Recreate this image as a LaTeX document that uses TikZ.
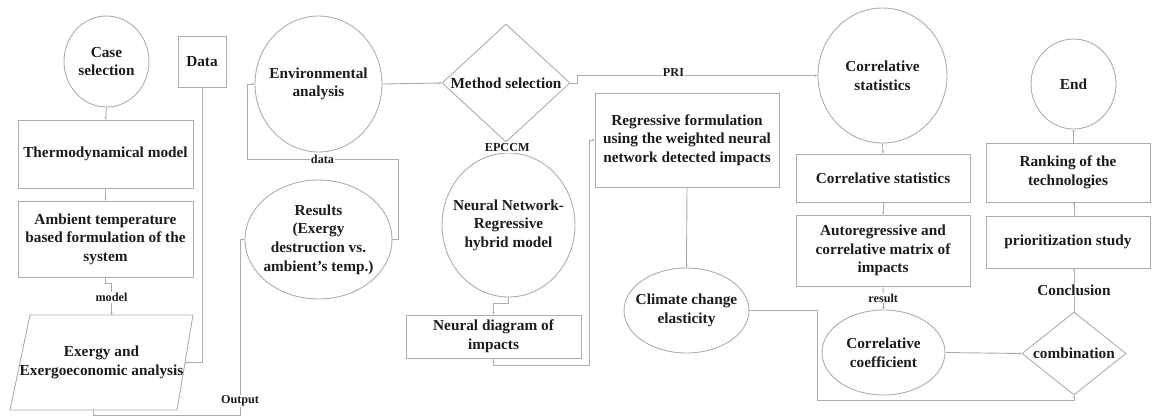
\documentclass[tikz,border=0pt]{standalone}
\usepackage{fontspec}
\setmainfont{Liberation Serif}
\usetikzlibrary{shapes.geometric,arrows.meta}
\definecolor{edge}{RGB}{172,172,172}
\definecolor{ink}{RGB}{28,28,28}

\begin{document}
\begin{tikzpicture}[x=1pt,y=-1pt,
  every node/.style={font=\fontsize{15.3}{18.6}\selectfont\bfseries, text=ink},
  outline/.style={draw=edge, line width=0.9pt},
  box/.style={outline, rectangle, inner sep=0pt, align=center},
  oval/.style={outline, ellipse, inner sep=0pt},
  rhomb/.style={outline, diamond, inner sep=0pt, align=center},
  flow/.style={draw=edge, line width=0.9pt, -{Stealth[length=2.6pt,width=2.4pt]}},
  tag/.style={fill=white, inner sep=1pt, font=\fontsize{12.2}{14}\selectfont\bfseries},
  inside/.style={align=center, inner sep=0pt}
]
\useasboundingbox (0,0) rectangle (1152,416);

% ---------- left column: thermodynamic part ----------
\node[oval, minimum width=85, minimum height=91,
      label={[inside]center:{Case\\selection}}] (case) at (106.5,61.5) {};
\node[box, minimum width=48, minimum height=51] (datab) at (202,61.5) {Data};
\node[box, minimum width=175, minimum height=68] (thermo) at (105.5,154) {Thermodynamical model};
\node[box, minimum width=175, minimum height=76] (ambient) at (105.5,239)
     {Ambient temperature\\based formulation of the\\system};

% parallelogram (input/output block)
\coordinate (pTL) at (30,315);
\coordinate (pTR) at (193,315);
\coordinate (pBR) at (177,410);
\coordinate (pBL) at (10,410);
\coordinate (exTop) at (111.5,315);
\coordinate (exRight) at (185,362.5);
\coordinate (exBottom) at (93.5,410);
\draw[outline] (pTL) -- (pTR) -- (pBR) -- (pBL) -- cycle;
\node[inside] (exergy) at (101.5,362.5) {Exergy and\\Exergoeconomic analysis};

% ---------- environmental part ----------
\node[oval, minimum width=127, minimum height=136,
      label={[inside]center:{Environmental\\analysis}}] (env) at (318.5,84) {};
\node[oval, minimum width=147, minimum height=119,
      label={[inside]center:{Results\\(Exergy\\destruction vs.\\ambient’s temp.)}}] (results) at (318.5,239.5) {};
\node[rhomb, aspect=1.085, minimum width=128, minimum height=118] (meth) at (506,83) {Method selection};
\node[oval, minimum width=133, minimum height=144,
      label={[inside]center:{Neural Network-\\Regressive\\hybrid model}}] (nn) at (508.5,225) {};
\node[box, minimum width=175, minimum height=43] (ndiag) at (493.5,336.5) {Neural diagram of\\impacts};
\node[box, minimum width=184, minimum height=94] (regr) at (687,140)
     {Regressive formulation\\using the weighted neural\\network detected impacts};
\node[oval, minimum width=125, minimum height=85,
      label={[inside]center:{Climate change\\elasticity}}] (clim) at (686.5,310.5) {};

% ---------- correlative part ----------
\node[oval, minimum width=129, minimum height=135,
      label={[inside]center:{Correlative\\statistics}}] (corr) at (882.5,75.5) {};
\node[box, minimum width=174, minimum height=48] (cstat) at (883,178) {Correlative statistics};
\node[box, minimum width=174, minimum height=71] (autoreg) at (883,250.5)
     {Autoregressive and\\correlative matrix of\\impacts};
\node[oval, minimum width=123, minimum height=85,
      label={[inside]center:{Correlative\\coefficient}}] (coef) at (883.5,352.5) {};

% ---------- conclusion part ----------
\node[rhomb, aspect=1.25, minimum width=104, minimum height=83] (comb) at (1074,353.5) {combination};
\node[box, minimum width=164, minimum height=52] (prio) at (1068,242) {prioritization study};
\node[box, minimum width=164, minimum height=59] (rank) at (1068,172.5) {Ranking of the\\technologies};
\node[oval, minimum width=85, minimum height=90,
      label={[inside]center:End}] (fin) at (1073.5,84) {};

% ---------- routing points ----------
\coordinate (outc) at (240,415);
\coordinate (d1) at (398,159);
\coordinate (d2) at (247,159);
\coordinate (r1) at (589,365);
\coordinate (c1) at (817,400);

% ---------- connectors ----------
\draw[flow] (case.south) -- (thermo.north);
\draw[flow] (thermo.south) -- (ambient.north);
\draw[flow] (ambient.south) -- ++(0,6) -| node[tag, pos=0.72]{model} (exTop);
\draw[flow] (datab.south) |- (exRight);
\draw[flow] (exBottom) |- (outc) |- node[tag, pos=0.04]{Output} (results.west);
\draw[flow] (results.east) -| (d1) -- node[tag]{data} (d2) |- (env.west);
\draw[flow] (env.east) -- (meth.west);
\draw[flow] (meth.east) -- ++(7,0) |- node[tag, pos=0.7, yshift=3pt]{PRI} (corr.west);
\draw[flow] (meth.south) -- node[tag]{EPCCM} (nn.north);
\draw[flow] (nn.south) -- ++(0,6) -| (ndiag.north);
\draw[flow] (ndiag.south) |- (r1) |- (regr.west);
\draw[flow] (regr.south) -- (clim.north);
\draw[flow] (clim.east) -| (c1) -| (comb.south);
\draw[flow] (corr.south) -- (cstat.north);
\draw[flow] (cstat.south) -- (autoreg.north);
\draw[flow] (autoreg.south) -- node[tag]{result} (coef.north);
\draw[flow] (coef.east) -- (comb.west);
\draw[flow] (comb.north) -- node[tag, font=\fontsize{15.3}{18.6}\selectfont\bfseries]{Conclusion} (comb.north |- prio.south);
\draw[flow] (prio.north -| comb.north) -- (rank.south -| comb.north);
\draw[flow] (rank.north -| fin.south) -- (fin.south);
\end{tikzpicture}
\end{document}
